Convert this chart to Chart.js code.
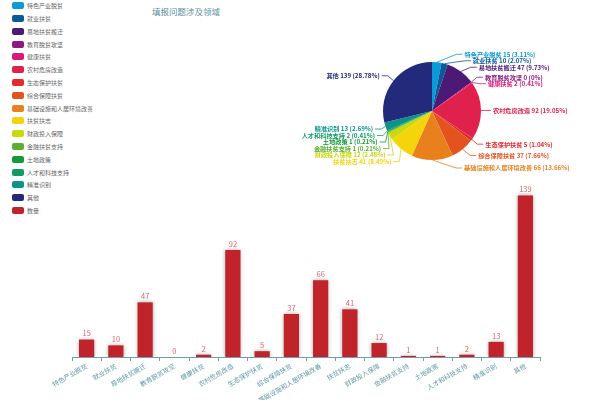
<!DOCTYPE html>
<html lang="zh">
<head>
<meta charset="UTF-8">
<title>填报问题涉及领域</title>
<script src="https://cdn.jsdelivr.net/npm/chart.js@4.4.1/dist/chart.umd.min.js"></script>
<style>
    html, body { margin: 0; padding: 0; background: #fff; }
    body {
        width: 600px; height: 400px; position: relative; overflow: hidden;
        font-family: "Noto Sans CJK SC", "Noto Sans", sans-serif;
    }
    canvas { position: absolute; left: 0; top: 0; }
    #title {
        position: absolute; left: 152px; top: 4px;
        font-size: 8.5px; line-height: 14px; color: #5a8f9a;
    }
    #legend { position: absolute; left: 12px; top: -0.7px; margin: 0; padding: 0; list-style: none; }
    #legend li { height: 12.8px; display: flex; align-items: center; font-size: 6px; color: #666; white-space: nowrap; }
    #legend .box { width: 12px; height: 7px; border-radius: 2px; margin-right: 3px; flex: none; }
</style>
</head>
<body>
<div id="title">填报问题涉及领域</div>
<ul id="legend"></ul>
<canvas id="barChart" width="600" height="400"></canvas>
<canvas id="pieChart" width="600" height="400"></canvas>

<script>
    // Data
    const categories = ['特色产业脱贫', '就业扶贫', '易地扶贫搬迁', '教育脱贫攻坚', '健康扶贫', '农村危房改造',
        '生态保护扶贫', '综合保障扶贫', '基础设施和人居环境改善', '扶贫扶志', '财政投入保障', '金融扶贫支持',
        '土地政策', '人才和科技支持', '精准识别', '其他'];
    const counts = [15, 10, 47, 0, 2, 92, 5, 37, 66, 41, 12, 1, 1, 2, 13, 139];
    const seriesName = '数量';

    // Colours
    const sliceColors = ['#0b9ad8', '#0a5a9a', '#4b1a75', '#8b1a7c', '#d8197c', '#e0214e', '#e22a30', '#e3531d',
        '#e8801e', '#f5d40c', '#c8d90c', '#5aae32', '#149a3c', '#129a62', '#0d9488', '#232a7b'];
    const barColor = '#c1232b';
    const fontFamily = '"Noto Sans CJK SC", "Noto Sans", sans-serif';

    const total = counts.reduce((a, b) => a + b, 0);

    // Legend (HTML)
    const legendEl = document.getElementById('legend');
    categories.concat([seriesName]).forEach((name, i) => {
        const li = document.createElement('li');
        const box = document.createElement('span');
        box.className = 'box';
        box.style.background = i < categories.length ? sliceColors[i] : barColor;
        li.appendChild(box);
        li.appendChild(document.createTextNode(name));
        legendEl.appendChild(li);
    });

    // Pie outside labels with leader lines
    const pieLabels = {
        id: 'pieLabels',
        afterDatasetsDraw(chart) {
            const ctx = chart.ctx;
            const meta = chart.getDatasetMeta(0);
            const gap = 6.5;
            const items = meta.data.map((arc, i) => {
                const p = arc.getProps(['x', 'y', 'startAngle', 'endAngle', 'outerRadius'], true);
                const mid = (p.startAngle + p.endAngle) / 2;
                return {
                    i, mid, cx: p.x, cy: p.y, r: p.outerRadius,
                    right: Math.cos(mid) >= 0,
                    y: p.y + (p.outerRadius + 8) * Math.sin(mid)
                };
            });
            [true, false].forEach(side => {
                const list = items.filter(it => it.right === side).sort((a, b) => a.y - b.y);
                for (let k = 1; k < list.length; k++) {
                    if (list[k].y < list[k - 1].y + gap) list[k].y = list[k - 1].y + gap;
                }
            });
            ctx.save();
            ctx.font = 'bold 6.2px ' + fontFamily;
            ctx.textBaseline = 'middle';
            ctx.lineWidth = 0.8;
            items.forEach(it => {
                const color = sliceColors[it.i];
                const Rx = it.r + 4, Ry = it.r + 15;
                const dy = it.y - it.cy;
                const dx = Rx * Math.sqrt(Math.max(0, 1 - (dy / Ry) * (dy / Ry)));
                const dir = it.right ? 1 : -1;
                const ex = it.cx + dir * dx;
                ctx.strokeStyle = color;
                ctx.beginPath();
                ctx.moveTo(it.cx + it.r * Math.cos(it.mid), it.cy + it.r * Math.sin(it.mid));
                ctx.lineTo(ex, it.y);
                ctx.lineTo(ex + dir * 6, it.y);
                ctx.stroke();
                const v = counts[it.i];
                const pct = parseFloat((v / total * 100).toFixed(2));
                ctx.fillStyle = color;
                ctx.textAlign = it.right ? 'left' : 'right';
                ctx.fillText(categories[it.i] + ' ' + v + ' (' + pct + '%)', ex + dir * 8, it.y);
            });
            ctx.restore();
        }
    };

    // Value labels above bars
    const barLabels = {
        id: 'barLabels',
        afterDatasetsDraw(chart) {
            const ctx = chart.ctx;
            ctx.save();
            ctx.font = '7.5px ' + fontFamily;
            ctx.fillStyle = '#d9646c';
            ctx.textAlign = 'center';
            ctx.textBaseline = 'middle';
            chart.getDatasetMeta(0).data.forEach((bar, i) => {
                ctx.fillText(String(counts[i]), bar.x, bar.y - 6);
            });
            ctx.restore();
        }
    };

    // Soft shadow behind the bars
    const barShadow = {
        id: 'barShadow',
        beforeDatasetDraw(chart) {
            chart.ctx.save();
            chart.ctx.shadowColor = 'rgba(0,0,0,0.35)';
            chart.ctx.shadowBlur = 4;
        },
        afterDatasetDraw(chart) {
            chart.ctx.restore();
        }
    };

    new Chart(document.getElementById('barChart'), {
        type: 'bar',
        data: {
            labels: categories,
            datasets: [{
                label: seriesName,
                data: counts,
                backgroundColor: barColor,
                barPercentage: 0.52,
                categoryPercentage: 1
            }]
        },
        options: {
            responsive: false,
            animation: false,
            layout: { padding: { left: 72, right: 60, top: 171, bottom: 0 } },
            plugins: { legend: { display: false }, tooltip: { enabled: false } },
            scales: {
                x: {
                    grid: { display: true, drawOnChartArea: false, drawTicks: true, tickLength: 4, color: '#6e9ea6', offset: true },
                    border: { color: '#6e9ea6' },
                    ticks: {
                        color: '#5f9aa5',
                        font: { size: 6.5, family: fontFamily },
                        minRotation: 30, maxRotation: 30,
                        autoSkip: false, padding: 1
                    },
                    afterFit(scale) { scale.height = 43; }
                },
                y: { display: false, min: 0, max: 160 }
            }
        },
        plugins: [barShadow, barLabels]
    });

    new Chart(document.getElementById('pieChart'), {
        type: 'pie',
        data: {
            labels: categories,
            datasets: [{
                data: counts,
                backgroundColor: sliceColors,
                borderWidth: 0,
                hoverOffset: 0
            }]
        },
        options: {
            responsive: false,
            animation: false,
            layout: { padding: { left: 383, right: 119, top: 62, bottom: 240 } },
            plugins: { legend: { display: false }, tooltip: { enabled: false } }
        },
        plugins: [pieLabels]
    });
</script>
</body>
</html>
